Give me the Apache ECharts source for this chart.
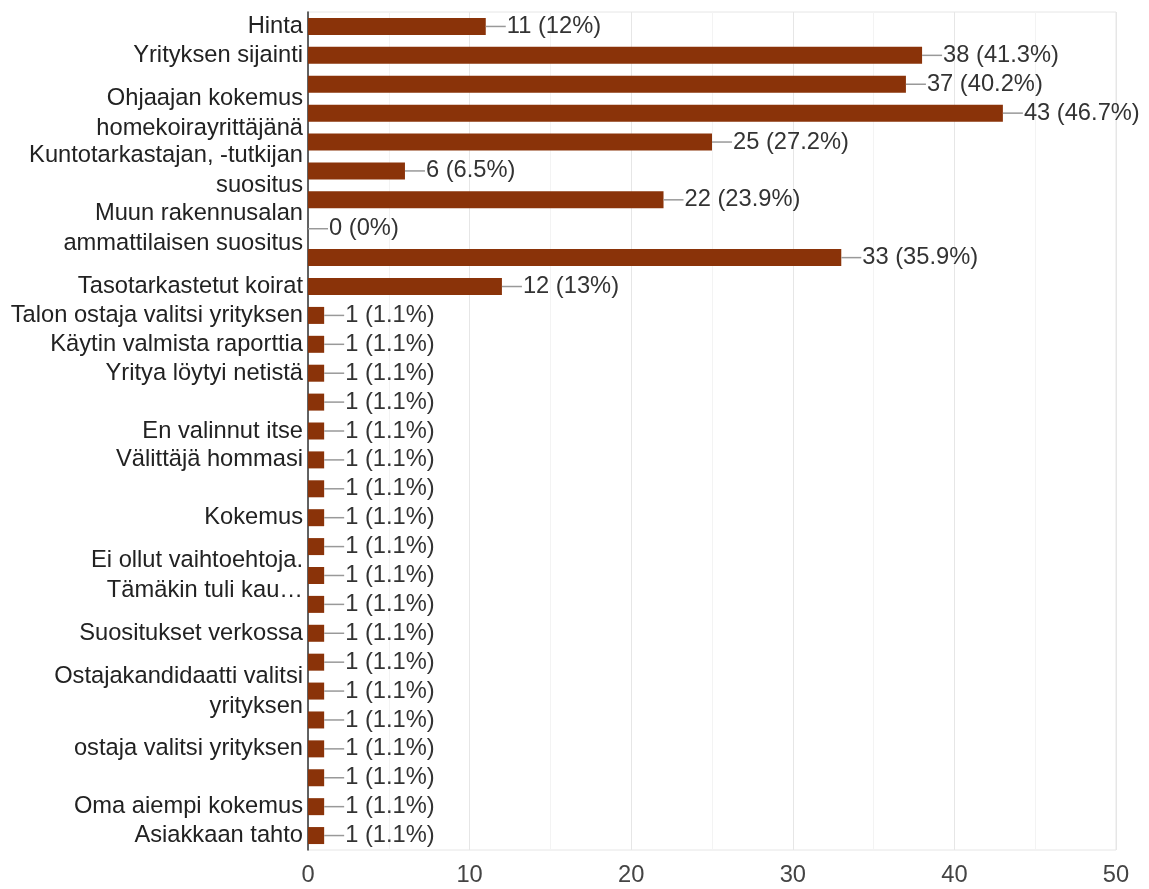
<!DOCTYPE html>
<html>
<head>
<meta charset="utf-8">
<script src="https://cdn.jsdelivr.net/npm/echarts@6/dist/echarts.min.js"></script>
<style>
html,body{margin:0;padding:0;background:#fff;}
#chart{width:1149px;height:889px;}
</style>
</head>
<body>
<div id="chart"></div>
<script>
var categories = [
  'Hinta',
  'Yrityksen sijainti',
  '',
  'Ohjaajan kokemus\nhomekoirayrittäjänä',
  '',
  'Kuntotarkastajan, -tutkijan\nsuositus',
  '',
  'Muun rakennusalan\nammattilaisen suositus',
  '',
  'Tasotarkastetut koirat',
  'Talon ostaja valitsi yrityksen',
  'Käytin valmista raporttia',
  'Yritya löytyi netistä',
  '',
  'En valinnut itse',
  'Välittäjä hommasi',
  '',
  'Kokemus',
  '',
  'Ei ollut vaihtoehtoja.\nTämäkin tuli kau…',
  '',
  'Suositukset verkossa',
  '',
  'Ostajakandidaatti valitsi\nyrityksen',
  '',
  'ostaja valitsi yrityksen',
  '',
  'Oma aiempi kokemus',
  'Asiakkaan tahto'
];
var counts = [11, 38, 37, 43, 25, 6, 22, 0, 33, 12, 1, 1, 1, 1, 1, 1, 1, 1, 1, 1, 1, 1, 1, 1, 1, 1, 1, 1, 1];
var percents = ['12%', '41.3%', '40.2%', '46.7%', '27.2%', '6.5%', '23.9%', '0%', '35.9%', '13%',
  '1.1%', '1.1%', '1.1%', '1.1%', '1.1%', '1.1%', '1.1%', '1.1%', '1.1%', '1.1%',
  '1.1%', '1.1%', '1.1%', '1.1%', '1.1%', '1.1%', '1.1%', '1.1%', '1.1%'];
var xTicks = [0, 10, 20, 30, 40, 50];

var FONT = '"Liberation Sans", Arial, sans-serif';
var FS = 23.7;

var chart = echarts.init(document.getElementById('chart'));
chart.setOption({
  animation: false,
  grid: {
    left: 308, right: 33, top: 12, bottom: 39,
    containLabel: false,
    show: true, borderColor: '#e6e6e6', borderWidth: 1
  },
  xAxis: {
    type: 'value',
    min: xTicks[0], max: xTicks[xTicks.length - 1], interval: 10,
    axisLine: { show: false },
    axisTick: { show: false },
    axisLabel: { color: '#444', fontSize: FS, fontFamily: FONT, margin: 13 },
    splitLine: { show: true, lineStyle: { color: '#e6e6e6', width: 1 } },
    minorTick: { show: false, splitNumber: 2 },
    minorSplitLine: { show: true, lineStyle: { color: '#f3f3f3', width: 1 } }
  },
  yAxis: {
    type: 'category',
    inverse: true,
    data: categories,
    axisLine: { show: true, lineStyle: { color: '#333', width: 1.5 } },
    axisTick: { show: false },
    splitLine: { show: false },
    axisLabel: {
      interval: 0, color: '#222', fontSize: FS, fontFamily: FONT,
      lineHeight: 30, margin: 5, align: 'right'
    }
  },
  series: [{
    type: 'bar',
    data: counts,
    barWidth: 17,
    itemStyle: { color: '#8a3309' },
    label: {
      show: true,
      position: 'right',
      distance: 0,
      formatter: function (p) {
        return '{l|}{t|' + counts[p.dataIndex] + ' (' + percents[p.dataIndex] + ')}';
      },
      rich: {
        l: { width: 20, height: 1.5, backgroundColor: '#999', verticalAlign: 'middle' },
        t: { color: '#333', fontSize: FS, fontFamily: FONT, padding: [0, 0, 0, 1], verticalAlign: 'middle' }
      }
    }
  }]
});
</script>
</body>
</html>
